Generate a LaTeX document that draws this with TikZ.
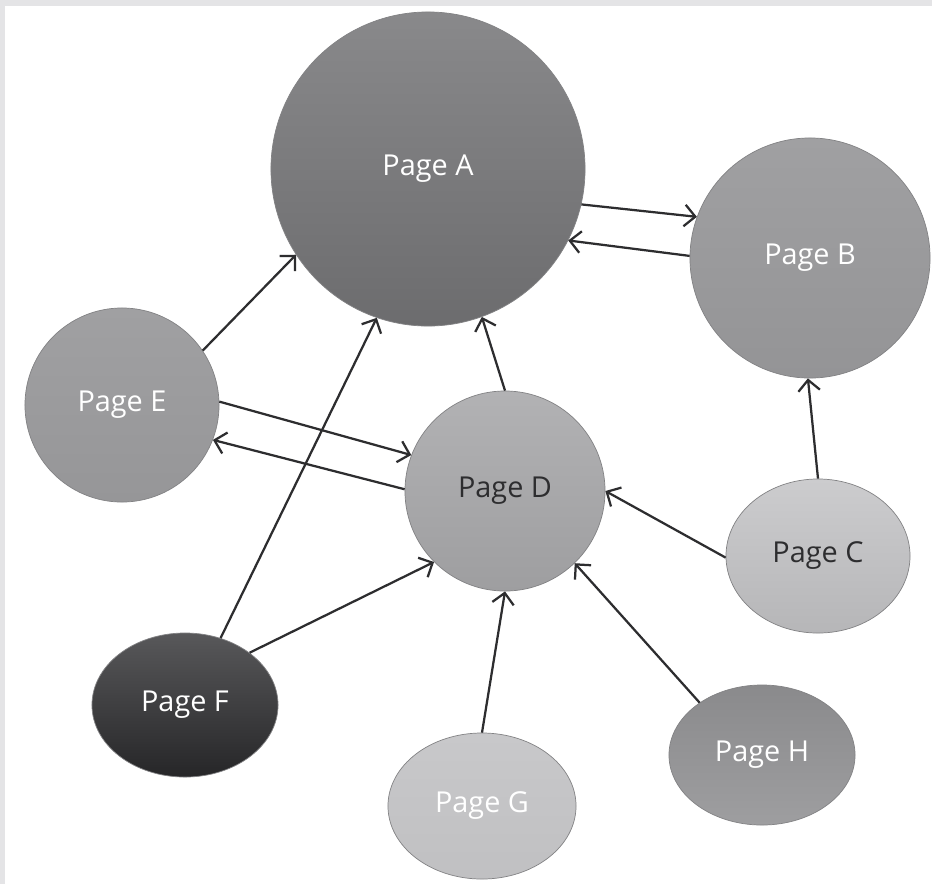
\documentclass[tikz,border=0pt]{standalone}
\usepackage{fontspec}
\setmainfont{Open Sans}
\usetikzlibrary{shapes.geometric, arrows.meta, positioning}
\definecolor{linkgray}{RGB}{45, 45, 47}
\definecolor{rimgray}{RGB}{130, 130, 132}
\definecolor{framegray}{RGB}{228, 228, 230}
\definecolor{darktext}{RGB}{45, 45, 47}
\tikzstyle{page} = [circle, inner sep=0pt, text centered, draw=rimgray, line width=0.5pt, text=white, font=\fontsize{20.5}{24}\selectfont]
\tikzstyle{oval} = [ellipse, inner sep=0pt, text centered, draw=rimgray, line width=0.5pt, text=white, font=\fontsize{20.5}{24}\selectfont]
\tikzstyle{arrow} = [line width=1.6pt, draw=linkgray, -{Straight Barb[length=2.7mm, width=5.4mm]}]

\begin{document}
\begin{tikzpicture}[x=0.025cm, y=-0.025cm]
\useasboundingbox (0,0) rectangle (932,884);
\fill[white] (0,0) rectangle (932,884);
\fill[framegray] (0,0) rectangle (932,6);
\fill[framegray] (0,0) rectangle (5,884);

\node (A) [page, minimum size=7.85cm, top color={rgb,255:red,137;green,137;blue,139}, bottom color={rgb,255:red,108;green,108;blue,110}] at (428,169) {Page A};
\node (B) [page, minimum size=6cm, top color={rgb,255:red,160;green,160;blue,162}, bottom color={rgb,255:red,148;green,148;blue,150}] at (810,258) {Page B};
\node (E) [page, minimum size=4.85cm, top color={rgb,255:red,160;green,160;blue,162}, bottom color={rgb,255:red,150;green,150;blue,152}] at (122,405) {Page E};
\node (D) [page, minimum size=5cm, text=darktext, top color={rgb,255:red,178;green,178;blue,180}, bottom color={rgb,255:red,158;green,158;blue,160}] at (505,491) {Page D};
\node (C) [oval, minimum width=4.6cm, minimum height=3.85cm, text=darktext, top color={rgb,255:red,204;green,204;blue,206}, bottom color={rgb,255:red,182;green,182;blue,184}] at (818,556) {Page C};
\node (F) [oval, minimum width=4.65cm, minimum height=3.6cm, top color={rgb,255:red,88;green,88;blue,90}, bottom color={rgb,255:red,38;green,38;blue,40}] at (185,705) {Page F};
\node (G) [oval, minimum width=4.7cm, minimum height=3.65cm, top color={rgb,255:red,200;green,200;blue,202}, bottom color={rgb,255:red,192;green,192;blue,194}] at (482,806) {Page G};
\node (H) [oval, minimum width=4.65cm, minimum height=3.5cm, top color={rgb,255:red,138;green,138;blue,140}, bottom color={rgb,255:red,158;green,158;blue,160}] at (762,755) {Page H};

% Arrows
\draw [arrow] (E.34) -- (A.213);
\draw [arrow] (F.62) -- (A.251);
\draw [arrow] (D.90) -- (A.290);
\draw [arrow] (A.347) -- (B.160);
\draw [arrow] (B.179) -- (A.333);
\draw [arrow] (E.2) -- (D.159);
\draw [arrow] (D.179) -- (E.339);
\draw [arrow] (C.181) -- (D.0);
\draw [arrow] (C.90) -- (B.269);
\draw [arrow] (F.39) -- (D.225);
\draw [arrow] (G.90) -- (D.270);
\draw [arrow] (H.140) -- (D.314);

\end{tikzpicture}
\end{document}
